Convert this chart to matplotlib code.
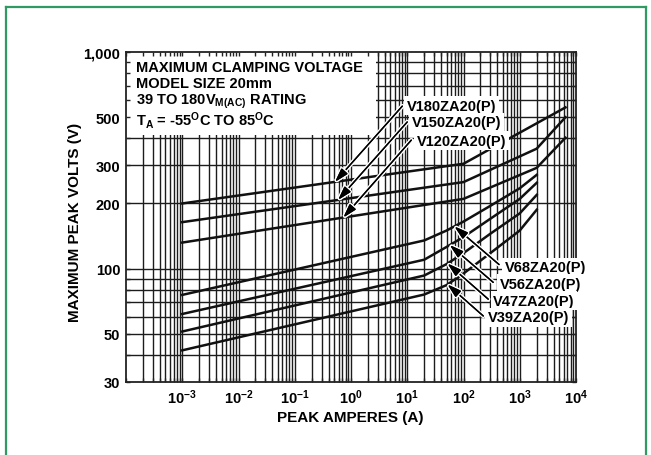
import numpy as np
import matplotlib
matplotlib.use('Agg')
import matplotlib.pyplot as plt
import matplotlib.patheffects as pe
from matplotlib.patches import Rectangle
from matplotlib.lines import Line2D
from matplotlib.ticker import LogLocator, NullFormatter, FixedLocator

plt.rcParams['font.family'] = ['Liberation Sans', 'DejaVu Sans']
plt.rcParams['font.weight'] = 'bold'
plt.rcParams['mathtext.fontset'] = 'custom'
plt.rcParams['mathtext.rm'] = 'Liberation Sans:bold'
plt.rcParams['mathtext.bf'] = 'Liberation Sans:bold'
plt.rcParams['mathtext.it'] = 'Liberation Sans:bold'
plt.rcParams['mathtext.default'] = 'rm'
plt.rcParams['axes.unicode_minus'] = False

# ---------------- data ----------------
amps_v180 = [1e-3, 100, 6500]
volts_v180 = [200, 305, 555]
amps_v150 = [1e-3, 100, 2000, 6500]
volts_v150 = [164, 251, 358, 500]
amps_v120 = [1e-3, 100, 2000, 6500]
volts_v120 = [132, 210, 292, 402]
amps_low = [1e-3, 20, 50, 100, 300, 1000, 2000]
volts_v68 = [75.7, 135, 150, 165, 195, 235, 271]
volts_v56 = [61.8, 110, 126, 140, 170, 210, 249]
volts_v47 = [51.3, 93, 105, 118, 145, 180, 219]
volts_v39 = [42.0, 76, 84, 95, 118, 150, 187]

series_names = ['V180ZA20(P)', 'V150ZA20(P)', 'V120ZA20(P)',
                'V68ZA20(P)', 'V56ZA20(P)', 'V47ZA20(P)', 'V39ZA20(P)']
series_amps = [amps_v180, amps_v150, amps_v120, amps_low, amps_low, amps_low, amps_low]
series_volts = [volts_v180, volts_v150, volts_v120, volts_v68, volts_v56, volts_v47, volts_v39]
# current at which each label arrow touches its curve
arrow_tip_amps = [0.52, 0.59, 0.73, 69, 57, 52, 52]

x_tick_vals = [1e-4, 1e-3, 1e-2, 1e-1, 1e0, 1e1, 1e2, 1e3, 1e4]
x_tick_labels = ['', r'$10^{-3}$', r'$10^{-2}$', r'$10^{-1}$', r'$10^{0}$',
                 r'$10^{1}$', r'$10^{2}$', r'$10^{3}$', r'$10^{4}$']
y_tick_vals = [30, 50, 100, 200, 300, 500, 1000]
y_tick_labels = ['30', '50', '100', '200', '300', '500', '1,000']

info_lines = ['MAXIMUM CLAMPING VOLTAGE', 'MODEL SIZE 20mm',
              r'39 TO 180V$_{\mathrm{M(AC)}}$ RATING',
              r'T$_{\mathrm{A}}$ = -55$^{\mathrm{O}}$C TO 85$^{\mathrm{O}}$C']

# ---------------- figure ----------------
W, H = 651, 456
fig = plt.figure(figsize=(W / 100, H / 100), dpi=100)
fig.patch.set_facecolor('white')

# green frame
gc = '#2f9a62'
fig.add_artist(Line2D([6 / W, 646 / W], [1 - 8 / H, 1 - 8 / H], color=gc, lw=1.6))
fig.add_artist(Line2D([6 / W, 6 / W], [0, 1 - 8 / H], color=gc, lw=1.6))
fig.add_artist(Line2D([646 / W, 646 / W], [0, 1 - 8 / H], color=gc, lw=1.6))

ax = fig.add_axes([126 / W, 1 - 383 / H, 450 / W, 330 / H])
ax.set_xscale('log')
ax.set_yscale('log')
ax.set_xlim(1e-4, 1e4)
ax.set_ylim(30, 1000)

# grid lines from log locators
xmaj = LogLocator(base=10, numticks=30).tick_values(1e-4, 1e4)
xmin = LogLocator(base=10, subs=np.arange(2, 10), numticks=30).tick_values(1e-4, 1e4)
gx = [v for v in np.concatenate([xmaj, xmin]) if 1e-4 < v < 1e4 * 0.999]
ymaj = LogLocator(base=10, numticks=30).tick_values(30, 1000)
ymin = LogLocator(base=10, subs=np.arange(2, 10), numticks=30).tick_values(30, 1000)
gy = [v for v in np.concatenate([ymaj, ymin]) if 30 < v < 999]
gcol = '#1c1c1c'
ax.vlines(gx, 30, 1000, colors=gcol, lw=1.0, zorder=0.6)
ax.hlines(gy, 1e-4, 1e4, colors=gcol, lw=1.0, zorder=0.6)

# white info box top-left
ax.add_patch(Rectangle((0.0, 0.748), 0.555, 0.252, transform=ax.transAxes,
                       fc='white', ec='none', zorder=1))
info_y = [0.943, 0.893, 0.843, 0.779]
for txt, yy in zip(info_lines, info_y):
    ax.text(0.022, yy, txt, transform=ax.transAxes, fontsize=10.5,
            fontweight='bold', ha='left', va='baseline', zorder=2)

# curves
for a, v in zip(series_amps, series_volts):
    ax.plot(a, v, color='#111111', lw=1.8, zorder=3, solid_joinstyle='miter')

# labels and arrows
label_pos = [(0.624, 0.837), (0.635, 0.787), (0.646, 0.731),
             (0.842, 0.348), (0.831, 0.297), (0.816, 0.246), (0.804, 0.196)]
tail_pos = [(0.614, 0.836), (0.625, 0.788), (0.634, 0.733),
            (0.829, 0.356), (0.816, 0.302), (0.805, 0.251), (0.794, 0.200)]
for name, a, v, tip, lp, tp in zip(series_names, series_amps, series_volts,
                                   arrow_tip_amps, label_pos, tail_pos):
    vt = 10 ** np.interp(np.log10(tip), np.log10(a), np.log10(v))
    ax.annotate('', xy=(tip, vt), xycoords='data', xytext=tp,
                textcoords='axes fraction',
                arrowprops=dict(arrowstyle='-|>,head_length=0.75,head_width=0.22',
                                color='black', lw=1.0, shrinkA=0, shrinkB=0,
                                mutation_scale=11,
                                path_effects=[pe.withStroke(linewidth=3.2, foreground='white'),
                                              pe.Normal()]),
                zorder=4)
    ax.text(lp[0], lp[1], name, transform=ax.transAxes, fontsize=10.5,
            fontweight='bold', ha='left', va='center', zorder=5, clip_on=False,
            bbox=dict(boxstyle='square,pad=0.18', fc='white', ec='none'))

# ticks
ax.xaxis.set_major_locator(FixedLocator(x_tick_vals))
ax.set_xticklabels(x_tick_labels)
ax.xaxis.set_minor_locator(LogLocator(base=10, subs=np.arange(2, 10), numticks=30))
ax.xaxis.set_minor_formatter(NullFormatter())
ax.yaxis.set_major_locator(FixedLocator(y_tick_vals))
ax.set_yticklabels(y_tick_labels)
ax.yaxis.set_minor_locator(LogLocator(base=10, subs=np.arange(1, 10), numticks=30))
ax.yaxis.set_minor_formatter(NullFormatter())
ax.tick_params(which='both', direction='in', length=3, width=1.0, color='#222222',
               top=True, right=True, labelsize=10.5, pad=4)
for lab in ax.get_xticklabels() + ax.get_yticklabels():
    lab.set_fontweight('bold')

for s in ax.spines.values():
    s.set_linewidth(1.3)
    s.set_color('#222222')
    s.set_zorder(2.6)

fig.text(75.5 / W, 1 - 222 / H, 'MAXIMUM PEAK VOLTS (V)', rotation=90,
         ha='center', va='center', fontsize=11, fontweight='bold')
fig.text(350.5 / W, 1 - 418 / H, 'PEAK AMPERES (A)', ha='center', va='center',
         fontsize=11, fontweight='bold')

fig.savefig('out.png', dpi=100)
